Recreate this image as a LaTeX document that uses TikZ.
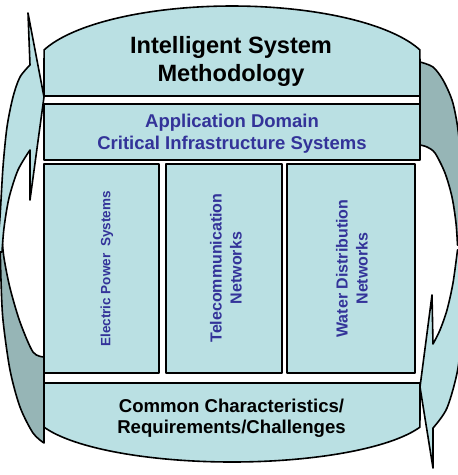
\documentclass[tikz,border=0pt]{standalone}
\usepackage{fontspec}
\setmainfont{Liberation Sans}
\definecolor{panelfill}{RGB}{186,224,227}
\definecolor{backfill}{RGB}{150,181,182}
\definecolor{navy}{RGB}{51,51,153}
\begin{document}
\begin{tikzpicture}[x=1pt,y=-1pt,line join=round,
  outl/.style={draw=black,line width=1.6pt},
  panel/.style={outl,fill=panelfill},
  backpart/.style={outl,fill=backfill},
  boxnode/.style={panel,inner sep=0pt,outer sep=0pt},
  titletext/.style={font=\fontsize{23.6}{28}\selectfont\bfseries,align=center,inner sep=0pt,text=black},
  domaintext/.style={font=\fontsize{18.5}{22}\selectfont\bfseries,align=center,inner sep=0pt,text=navy},
  commontext/.style={font=\fontsize{18.6}{21}\selectfont\bfseries,align=center,inner sep=0pt,text=black},
  coltext/.style={font=\fontsize{16}{20}\selectfont\bfseries,align=center,inner sep=0pt,text=navy,rotate=90},
  smallcoltext/.style={font=\fontsize{13.5}{17}\selectfont\bfseries,align=center,inner sep=0pt,text=navy,rotate=90}]
\useasboundingbox (0,0) rectangle (458,475);
\clip (0,0) rectangle (458,475);

% ---- left curved arrow (back part, then front part with head)
\draw[backpart] plot[smooth] coordinates {(0,238) (1,280) (3,320) (10,370) (20,407) (33,433) (44,443)}
  -- (44,357)
  -- plot[smooth] coordinates {(44,357) (33,352) (20,322) (10,288) (4,258) (2,238)} -- cycle;
\draw[panel] (30,65) -- (28,13) -- (44,97) -- (30,200) -- (30,150)
  -- plot[smooth] coordinates {(30,150) (18,170) (9,198) (4,228) (2,252)}
  -- (-3,252)
  -- plot[smooth] coordinates {(-3,252) (0,217) (3,167) (7,127) (13,97) (20,77) (30,65)} -- cycle;

% ---- right curved arrow (back part, then front part with head)
\draw[backpart] plot[smooth] coordinates {(420,62) (433,67) (443,80) (452,100) (457,123) (460,150) (462,200) (464,245)}
  -- (457.5,245)
  -- plot[smooth] coordinates {(457.5,245) (456,223) (452,197) (445,173) (435,153) (427,147) (420,145)} -- cycle;
\draw[panel] (433,344)
  -- plot[smooth] coordinates {(433,344) (440,330) (447,310) (453,283) (457.5,250)}
  -- (465,250)
  -- plot[smooth] coordinates {(465,250) (462,320) (458,368) (447,408) (433,428)}
  -- (433,468) -- (420,387) -- (432,295) -- cycle;

% ---- top panel
\draw[panel] (44,96) -- plot[domain=200:340,samples=80] ({232+200*cos(\x)},{72.8+66.8*sin(\x)}) -- (420,96) -- cycle;
% ---- application domain panel
\node[boxnode,minimum width=376pt,minimum height=56pt] (app) at (232,132) {};
% ---- three columns
\node[boxnode,minimum width=115pt,minimum height=209pt] (colA) at (101.5,268.5) {};
\node[boxnode,minimum width=116pt,minimum height=209pt] (colB) at (224,268.5) {};
\node[boxnode,minimum width=128pt,minimum height=209pt] (colC) at (351,268.5) {};
% ---- bottom panel
\draw[panel] (44,383) -- (420,383) -- plot[domain=20:160,samples=80] ({232+200*cos(\x)},{409+53*sin(\x)}) -- cycle;

% ---- texts
\node[titletext] (title) at (231,61) {Intelligent System\\Methodology};
\node[domaintext] (domain) at (232,134) {Application Domain\\Critical Infrastructure Systems};
\node[commontext] (common) at (231.5,418.6) {Common Characteristics/\\Requirements/Challenges};
\node[smallcoltext] (eps) at (107,269) {Electric Power\hspace{0.5em}Systems};
\node[coltext] (tel) at (226,268) {Telecommunication\\Networks};
\node[coltext] (wat) at (352,268.5) {Water Distribution\\Networks};
\end{tikzpicture}
\end{document}
